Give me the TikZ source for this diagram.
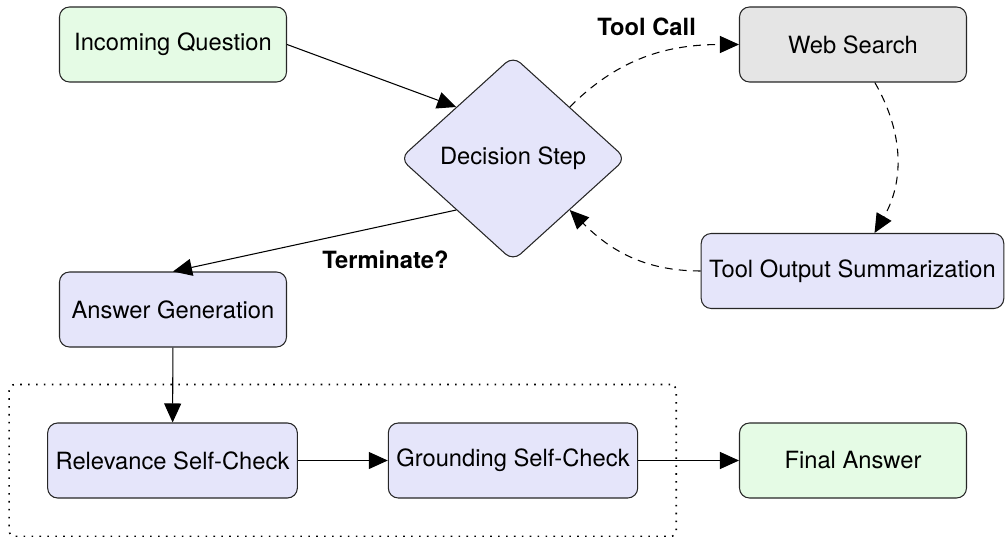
\documentclass[tikz,border=0pt]{standalone}
\usepackage{fontspec}
\setmainfont{TeX Gyre Heros}
\usepackage{tikz}
\usetikzlibrary{arrows.meta,shapes.geometric,fit}

\definecolor{qgreen}{RGB}{229,251,229}
\definecolor{stepblue}{RGB}{229,229,250}
\definecolor{toolgray}{RGB}{229,229,229}

\begin{document}
\begin{tikzpicture}[
  box/.style={draw=black!85, line width=0.6pt, rounded corners=0.2cm,
    minimum width=4.54cm, minimum height=1.5cm, inner xsep=0.16cm,
    font=\fontsize{13.5}{16}\selectfont},
  decision/.style={diamond, draw=black!85, line width=0.6pt, fill=stepblue,
    rounded corners=0.2cm, aspect=1.1, inner sep=0pt,
    minimum width=4.52cm, minimum height=4.1cm,
    font=\fontsize{13.5}{16}\selectfont},
  flow/.style={line width=0.6pt, -{Triangle[length=0.38cm,width=0.34cm]}},
  loosedash/.style={dash pattern=on 4.5pt off 3.5pt},
  lbl/.style={font=\fontsize{13.5}{16}\selectfont\bfseries}
]
\useasboundingbox (0cm,0cm) rectangle (20.12cm,-10.74cm);

% top and middle
\node [box,fill=qgreen] (question) at (3.46cm,-0.89cm) {Incoming Question};
\node [box,fill=toolgray] (search) at (17.06cm,-0.89cm) {Web Search};
\node [decision] (decide) at (10.26cm,-3.17cm) {Decision Step};
\node [box,fill=stepblue] (summary) at (17.05cm,-5.42cm) {Tool Output Summarization};
\node [box,fill=stepblue] (answer) at (3.46cm,-6.19cm) {Answer Generation};

% bottom row
\node [box,fill=stepblue] (relevance) at (3.45cm,-9.21cm) {Relevance Self-Check};
\node [box,fill=stepblue] (grounding) at (10.26cm,-9.21cm) {Grounding Self-Check};
\node [box,fill=qgreen] (final) at (17.06cm,-9.21cm) {Final Answer};
\node [draw, line width=0.9pt, dash pattern=on 0.9pt off 3.6pt, rounded corners=0.12cm,
  fit=(relevance)(grounding), inner sep=0.76cm] (checks) {};

\draw [flow,loosedash] (decide.north east) to[out=45,in=180]
  node [lbl,pos=0.5,above=0.3cm] {Tool Call} (search.west);
\draw [flow,loosedash] (search) to[bend left] (summary);
\draw [flow,loosedash] (summary.west) to[out=180,in=-45] (decide.south east);
\draw [flow] (question.east) -- (decide.north west);
\draw [flow] (decide.south west) --
  node [lbl,pos=0.25,below=0.38cm] {Terminate?} (answer.north);
\draw [flow] (answer) -- (relevance);
\draw [flow] (relevance) -- (grounding);
\draw [flow] (grounding) -- (final);

\end{tikzpicture}
\end{document}
